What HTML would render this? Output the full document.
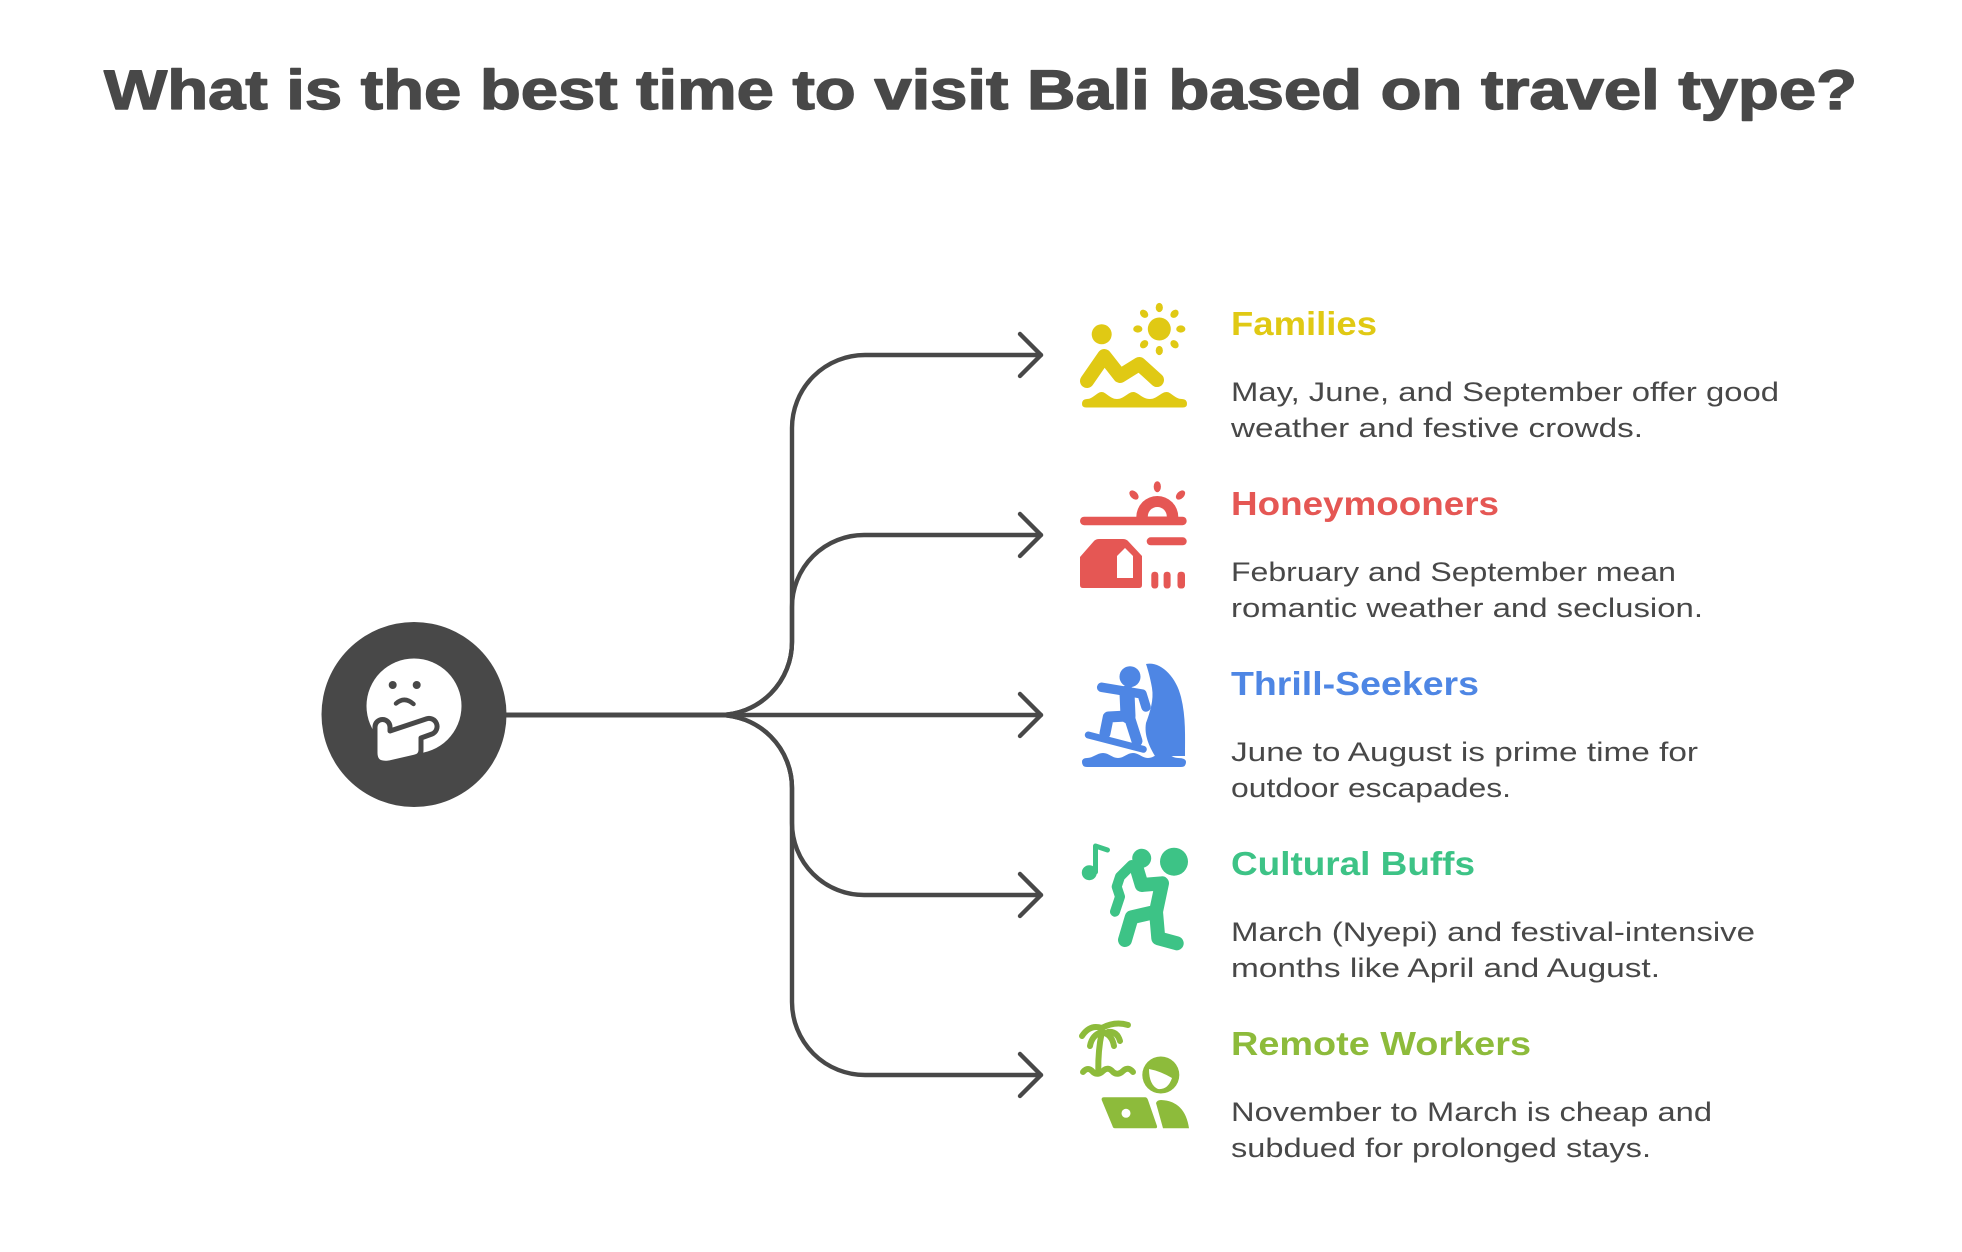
<!DOCTYPE html>
<html>
<head>
<meta charset="utf-8">
<style>
  html,body{margin:0;padding:0;background:#ffffff;}
  body{width:1962px;height:1252px;overflow:hidden;}
  svg{display:block;}
  .t{font-family:"Liberation Sans",sans-serif;}
</style>
</head>
<body>
<svg width="1962" height="1252" viewBox="0 0 1962 1252" xmlns="http://www.w3.org/2000/svg">
  <rect width="1962" height="1252" fill="#ffffff"/>

  <!-- Title -->
  <text class="t" x="104" y="109" font-size="56" font-weight="bold" fill="#484848" stroke="#484848" stroke-width="1.4" stroke-linejoin="round" textLength="1753" lengthAdjust="spacingAndGlyphs">What is the best time to visit Bali based on travel type?</text>

  <!-- Connectors -->
  <g fill="none" stroke="#484848" stroke-width="4.4" stroke-linecap="round" stroke-linejoin="round">
    <path d="M506,715 H719 A73,73 0 0 0 792,642 V428 A73,73 0 0 1 865,355 H1041"/>
    <path d="M506,715 H719 A73,73 0 0 0 792,642 V607 A72,72 0 0 1 864,535 H1041"/>
    <path d="M506,715 H1041"/>
    <path d="M506,715 H719 A73,73 0 0 1 792,788 V823 A72,72 0 0 0 864,895 H1041"/>
    <path d="M506,715 H719 A73,73 0 0 1 792,788 V1002 A73,73 0 0 0 865,1075 H1041"/>
    <!-- arrowheads -->
    <path d="M1020,334 L1041,355 L1020,376"/>
    <path d="M1020,514 L1041,535 L1020,556"/>
    <path d="M1020,694 L1041,715 L1020,736"/>
    <path d="M1020,874 L1041,895 L1020,916"/>
    <path d="M1020,1054 L1041,1075 L1020,1096"/>
  </g>

  <!-- Central node -->
  <circle cx="414" cy="714.5" r="92.5" fill="#484848"/>
  <circle cx="414" cy="706" r="47.5" fill="#ffffff"/>
  <circle cx="392.7" cy="685" r="4" fill="#484848"/>
  <circle cx="416.7" cy="685" r="4" fill="#484848"/>
  <path d="M396,703.5 Q404.5,696 413.5,704" fill="none" stroke="#484848" stroke-width="4.5" stroke-linecap="round"/>
  <path d="M375,753 V727 A7.5,7.5 0 0 1 390,727 V731 L426,719 A8,8 0 0 1 432,734 L421,738 V750 Q421,756 415,757 L389,763 Q375,765 375,753 Z" fill="#ffffff" stroke="#484848" stroke-width="5" stroke-linejoin="round"/>

  <!-- Families icon (yellow) -->
  <g fill="#E0C914">
    <circle cx="1101.7" cy="334.3" r="10"/>
    <circle cx="1159.3" cy="329" r="11.5"/>
    <g transform="translate(1159.3,329)">
      <ellipse cx="0" cy="-21.5" rx="3.6" ry="4.6"/>
      <ellipse cx="0" cy="-21.5" rx="3.6" ry="4.6" transform="rotate(45)"/>
      <ellipse cx="0" cy="-21.5" rx="3.6" ry="4.6" transform="rotate(90)"/>
      <ellipse cx="0" cy="-21.5" rx="3.6" ry="4.6" transform="rotate(135)"/>
      <ellipse cx="0" cy="-21.5" rx="3.6" ry="4.6" transform="rotate(180)"/>
      <ellipse cx="0" cy="-21.5" rx="3.6" ry="4.6" transform="rotate(225)"/>
      <ellipse cx="0" cy="-21.5" rx="3.6" ry="4.6" transform="rotate(270)"/>
      <ellipse cx="0" cy="-21.5" rx="3.6" ry="4.6" transform="rotate(315)"/>
    </g>
    <path d="M1082,404 Q1082,399 1087,399 C1093,399 1097,392 1101.7,392 C1106,392 1110,399 1117,399 C1124,399 1128,392 1133.3,392 C1138,392 1142,399 1150,399 C1157,399 1161,392 1166.7,392 C1171,392 1175,399 1182,399 Q1187,399 1187,404 Q1187,407.5 1183,407.5 H1086 Q1082,407.5 1082,404 Z"/>
  </g>
  <polyline points="1087,381 1104.3,356 1120,376 1139.3,364 1157,380" fill="none" stroke="#E0C914" stroke-width="14" stroke-linecap="round" stroke-linejoin="round"/>

  <!-- Honeymooners icon (red) -->
  <g fill="#E55754">
    <rect x="1080" y="516.7" width="106.7" height="8.5" rx="4.2"/>
    <path d="M1136.3,517 A21,21 0 0 1 1178.3,517 Z"/>
    <path d="M1147.8,516.5 A9.5,9.5 0 0 1 1166.8,516.5 Z" fill="#ffffff"/>
    <ellipse cx="1157.3" cy="486.7" rx="3.6" ry="5.5"/>
    <ellipse cx="1134" cy="495" rx="3.6" ry="5.5" transform="rotate(-45 1134 495)"/>
    <ellipse cx="1180.5" cy="495" rx="3.6" ry="5.5" transform="rotate(45 1180.5 495)"/>
    <rect x="1146.7" y="537.3" width="40" height="8" rx="4"/>
    <path d="M1083,588 Q1080,588 1080,585 V557 L1094,541 Q1096,539 1099,539 H1123 Q1126,539 1128,541 L1142,556 V585 Q1142,588 1139,588 Z"/>
    <path d="M1117,578 V556 L1125,548 L1133,556 V578 Z" fill="#ffffff"/>
    <rect x="1151.3" y="571.7" width="7" height="16.8" rx="3.2"/>
    <rect x="1163.6" y="571.7" width="7" height="16.8" rx="3.2"/>
    <rect x="1177.5" y="571.7" width="7.5" height="16.8" rx="3.2"/>
  </g>

  <!-- Thrill-Seekers icon (blue) -->
  <g fill="#4E86E4">
    <circle cx="1130" cy="676.7" r="10.5"/>
    <path d="M1146,664 C1160,661 1176,676 1181,697 C1186,717 1185,737 1185,756 L1155,756 C1149,746 1144,735 1146,723 C1150,712 1154,700 1152,688 C1150,677 1148,670 1146,664 Z"/>
    <path d="M1082,762 Q1082,758 1087,758 C1093,758 1097,753 1103,753 C1109,753 1112,758 1118,758 C1124,758 1127,753 1133,753 C1139,753 1142,758 1148,758 C1154,758 1157,753 1163,753 C1169,753 1172,758 1178,758 Q1186,758 1186,762 Q1186,767 1181,767 H1087 Q1082,767 1082,762 Z"/>
  </g>
  <g fill="none" stroke="#4E86E4" stroke-linecap="round" stroke-linejoin="round">
    <polyline points="1101.7,687.3 1127,691.5 1142,694 1146,707" stroke-width="9.5"/>
    <polyline points="1127,693 1128,716" stroke-width="15"/>
    <polyline points="1127,716 1108.3,717 1105,733.3" stroke-width="11"/>
    <polyline points="1129,716 1132.5,727 1137,741" stroke-width="11"/>
    <line x1="1088.3" y1="735" x2="1143.3" y2="749.3" stroke-width="7"/>
  </g>

  <!-- Cultural Buffs icon (green) -->
  <g fill="#3DC386">
    <circle cx="1089.3" cy="872.7" r="7.5"/>
    <circle cx="1174" cy="861.7" r="14"/>
    <circle cx="1141.7" cy="858.3" r="9.5"/>
  </g>
  <g fill="none" stroke="#3DC386" stroke-linecap="round" stroke-linejoin="round">
    <polyline points="1095.5,872 1095.5,846 1107.5,850" stroke-width="5"/>
    <polyline points="1131.7,865 1120,876.7 1116.7,886.7 1120,896.7 1115,911.7" stroke-width="10"/>
    <polyline points="1136.7,868.3 1141.7,885 1162,883.3 1156,911.7 1131.7,917.3 1125,940" stroke-width="14"/>
    <polyline points="1156,911.7 1158.3,938.3 1176.7,943.3" stroke-width="14"/>
  </g>

  <!-- Remote Workers icon (lime) -->
  <g fill="none" stroke="#8DBB3B" stroke-linecap="round" stroke-linejoin="round" stroke-width="6">
    <path d="M1098.3,1071 Q1098,1050 1101.7,1033"/>
    <path d="M1082,1036 Q1090,1024 1101.7,1028"/>
    <path d="M1101.7,1028 Q1115,1021 1128,1025"/>
    <path d="M1090,1046 Q1092,1035 1101.7,1032"/>
    <path d="M1101.7,1032 Q1112,1034 1114,1046"/>
    <path d="M1108,1032 Q1117,1031 1120,1041"/>
    <path d="M1083,1072 Q1088,1066 1093,1072 Q1098,1076 1103,1071 Q1108,1066 1113,1072 Q1118,1076 1123,1071 Q1128,1066 1133,1072"/>
  </g>
  <g fill="#8DBB3B">
    <circle cx="1160.8" cy="1075" r="18.5"/>
    <path d="M1149,1069 Q1160,1071 1172,1078 Q1168,1090 1158,1089 Q1149,1085 1149,1069 Z" fill="#ffffff"/>
    <path d="M1104,1097.3 H1145 Q1147,1097.3 1148,1100 L1157,1126 Q1157.5,1128.3 1155,1128.3 H1115 Q1113,1128.3 1112.5,1126 L1101.7,1100 Q1101.2,1097.3 1104,1097.3 Z"/>
    <circle cx="1126" cy="1113.3" r="4.5" fill="#ffffff"/>
    <path d="M1156,1103 Q1157,1100 1161,1100 Q1185,1101 1189,1128.3 H1163 Z"/>
  </g>

  <!-- Headings -->
  <g class="t" font-size="33" font-weight="bold">
    <text x="1231" y="335" fill="#E0C914" textLength="146" lengthAdjust="spacingAndGlyphs">Families</text>
    <text x="1231" y="515" fill="#E55754" textLength="268" lengthAdjust="spacingAndGlyphs">Honeymooners</text>
    <text x="1231" y="695" fill="#4E86E4" textLength="248" lengthAdjust="spacingAndGlyphs">Thrill-Seekers</text>
    <text x="1231" y="875" fill="#3DC386" textLength="244" lengthAdjust="spacingAndGlyphs">Cultural Buffs</text>
    <text x="1231" y="1055" fill="#8DBB3B" textLength="300" lengthAdjust="spacingAndGlyphs">Remote Workers</text>
  </g>

  <!-- Descriptions -->
  <g class="t" font-size="27" fill="#484848">
    <text x="1231" y="401" textLength="548" lengthAdjust="spacingAndGlyphs">May, June, and September offer good</text>
    <text x="1231" y="437" textLength="412" lengthAdjust="spacingAndGlyphs">weather and festive crowds.</text>

    <text x="1231" y="581" textLength="445" lengthAdjust="spacingAndGlyphs">February and September mean</text>
    <text x="1231" y="617" textLength="472" lengthAdjust="spacingAndGlyphs">romantic weather and seclusion.</text>

    <text x="1231" y="761" textLength="467" lengthAdjust="spacingAndGlyphs">June to August is prime time for</text>
    <text x="1231" y="797" textLength="280" lengthAdjust="spacingAndGlyphs">outdoor escapades.</text>

    <text x="1231" y="941" textLength="524" lengthAdjust="spacingAndGlyphs">March (Nyepi) and festival-intensive</text>
    <text x="1231" y="977" textLength="429" lengthAdjust="spacingAndGlyphs">months like April and August.</text>

    <text x="1231" y="1121" textLength="481" lengthAdjust="spacingAndGlyphs">November to March is cheap and</text>
    <text x="1231" y="1157" textLength="420" lengthAdjust="spacingAndGlyphs">subdued for prolonged stays.</text>
  </g>
</svg>
</body>
</html>
